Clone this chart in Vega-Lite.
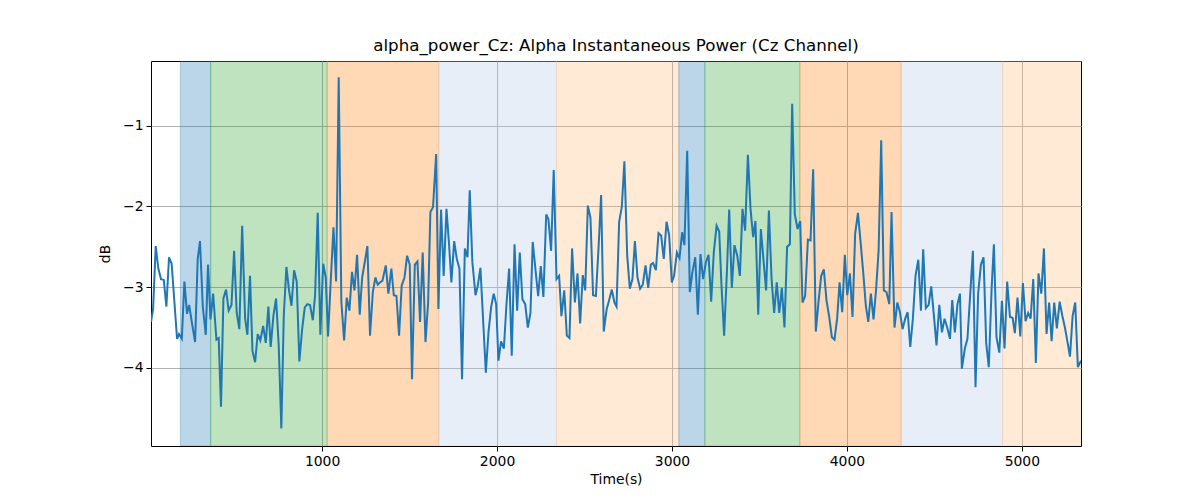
{
  "$schema": "https://vega.github.io/schema/vega-lite/v6.json",
  "width": 930,
  "height": 385,
  "autosize": {"type": "none"},
  "padding": {"left": 151, "top": 61, "right": 119, "bottom": 54},
  "background": "white",
  "title": {
    "text": "alpha_power_Cz: Alpha Instantaneous Power (Cz Channel)",
    "font": "DejaVu Sans",
    "fontSize": 16.7,
    "fontWeight": "normal",
    "color": "black",
    "anchor": "middle",
    "offset": 6
  },
  "config": {
    "view": {"stroke": "black", "strokeWidth": 1},
    "axis": {
      "domain": false,
      "grid": true,
      "gridColor": "#b0b0b0",
      "gridWidth": 1,
      "tickColor": "black",
      "tickSize": 5,
      "labelFont": "DejaVu Sans",
      "labelFontSize": 13.9,
      "labelColor": "black",
      "labelPadding": 3,
      "titleFont": "DejaVu Sans",
      "titleFontSize": 13.9,
      "titleFontWeight": "normal",
      "titleColor": "black"
    }
  },
  "datasets": {
    "bands": [
      {"start": 190, "end": 363, "phase": "A"},
      {"start": 363, "end": 1029, "phase": "B"},
      {"start": 1029, "end": 1667, "phase": "C"},
      {"start": 1667, "end": 2340, "phase": "D"},
      {"start": 2340, "end": 3039, "phase": "E"},
      {"start": 3039, "end": 3188, "phase": "A"},
      {"start": 3188, "end": 3731, "phase": "B"},
      {"start": 3731, "end": 4310, "phase": "C"},
      {"start": 4310, "end": 4890, "phase": "D"},
      {"start": 4890, "end": 5400, "phase": "E"}
    ],
    "power": [
      {"t": 22, "v": -3.43}, {"t": 34, "v": -3.27}, {"t": 49, "v": -2.49}, {"t": 64, "v": -2.77}, {"t": 79, "v": -2.90},
      {"t": 95, "v": -2.91}, {"t": 110, "v": -3.24}, {"t": 125, "v": -2.63}, {"t": 140, "v": -2.71}, {"t": 156, "v": -3.19},
      {"t": 171, "v": -3.64}, {"t": 182, "v": -3.58}, {"t": 198, "v": -3.64}, {"t": 213, "v": -2.93}, {"t": 228, "v": -3.33},
      {"t": 240, "v": -3.22}, {"t": 255, "v": -3.43}, {"t": 274, "v": -3.68}, {"t": 289, "v": -2.65}, {"t": 302, "v": -2.43},
      {"t": 318, "v": -3.24}, {"t": 335, "v": -3.59}, {"t": 348, "v": -2.72}, {"t": 362, "v": -3.40}, {"t": 377, "v": -3.08},
      {"t": 396, "v": -3.65}, {"t": 409, "v": -3.63}, {"t": 422, "v": -4.48}, {"t": 436, "v": -3.14}, {"t": 451, "v": -3.03},
      {"t": 466, "v": -3.29}, {"t": 482, "v": -3.22}, {"t": 497, "v": -2.55}, {"t": 512, "v": -3.32}, {"t": 527, "v": -3.52},
      {"t": 543, "v": -2.24}, {"t": 560, "v": -3.39}, {"t": 573, "v": -3.59}, {"t": 588, "v": -2.86}, {"t": 602, "v": -3.79},
      {"t": 617, "v": -3.93}, {"t": 632, "v": -3.58}, {"t": 647, "v": -3.66}, {"t": 663, "v": -3.48}, {"t": 678, "v": -3.69},
      {"t": 693, "v": -3.24}, {"t": 706, "v": -3.74}, {"t": 722, "v": -3.35}, {"t": 737, "v": -3.14}, {"t": 752, "v": -3.72},
      {"t": 767, "v": -4.75}, {"t": 781, "v": -3.35}, {"t": 796, "v": -2.75}, {"t": 811, "v": -3.04}, {"t": 825, "v": -3.23},
      {"t": 840, "v": -2.79}, {"t": 855, "v": -2.93}, {"t": 870, "v": -3.92}, {"t": 886, "v": -3.52}, {"t": 901, "v": -3.25},
      {"t": 916, "v": -3.21}, {"t": 931, "v": -3.22}, {"t": 947, "v": -3.41}, {"t": 960, "v": -3.10}, {"t": 975, "v": -2.08},
      {"t": 990, "v": -3.59}, {"t": 1006, "v": -2.71}, {"t": 1021, "v": -2.88}, {"t": 1034, "v": -3.61}, {"t": 1049, "v": -2.94},
      {"t": 1065, "v": -2.26}, {"t": 1080, "v": -2.93}, {"t": 1095, "v": -0.40}, {"t": 1110, "v": -3.18}, {"t": 1126, "v": -3.66},
      {"t": 1141, "v": -3.13}, {"t": 1156, "v": -3.29}, {"t": 1171, "v": -2.81}, {"t": 1185, "v": -3.04}, {"t": 1200, "v": -2.60},
      {"t": 1215, "v": -3.34}, {"t": 1229, "v": -2.88}, {"t": 1244, "v": -2.69}, {"t": 1259, "v": -2.49}, {"t": 1274, "v": -3.60},
      {"t": 1290, "v": -3.06}, {"t": 1305, "v": -2.88}, {"t": 1318, "v": -2.97}, {"t": 1332, "v": -2.94}, {"t": 1345, "v": -2.92},
      {"t": 1364, "v": -2.73}, {"t": 1379, "v": -3.08}, {"t": 1396, "v": -2.77}, {"t": 1410, "v": -3.10}, {"t": 1425, "v": -3.11},
      {"t": 1440, "v": -3.60}, {"t": 1455, "v": -2.98}, {"t": 1471, "v": -2.88}, {"t": 1486, "v": -2.61}, {"t": 1501, "v": -2.72},
      {"t": 1514, "v": -4.14}, {"t": 1530, "v": -2.72}, {"t": 1545, "v": -2.68}, {"t": 1560, "v": -3.43}, {"t": 1575, "v": -2.57},
      {"t": 1591, "v": -3.68}, {"t": 1606, "v": -3.19}, {"t": 1619, "v": -2.07}, {"t": 1634, "v": -2.01}, {"t": 1652, "v": -1.35},
      {"t": 1665, "v": -3.27}, {"t": 1680, "v": -2.04}, {"t": 1695, "v": -2.86}, {"t": 1711, "v": -2.03}, {"t": 1726, "v": -2.48},
      {"t": 1739, "v": -2.94}, {"t": 1755, "v": -2.43}, {"t": 1770, "v": -2.65}, {"t": 1785, "v": -2.77}, {"t": 1800, "v": -4.14},
      {"t": 1816, "v": -2.52}, {"t": 1831, "v": -2.63}, {"t": 1844, "v": -1.80}, {"t": 1859, "v": -2.69}, {"t": 1877, "v": -3.10},
      {"t": 1890, "v": -2.98}, {"t": 1905, "v": -2.76}, {"t": 1920, "v": -3.39}, {"t": 1936, "v": -4.06}, {"t": 1951, "v": -3.56},
      {"t": 1966, "v": -3.25}, {"t": 1981, "v": -3.08}, {"t": 1995, "v": -3.21}, {"t": 2008, "v": -3.91}, {"t": 2023, "v": -3.67},
      {"t": 2039, "v": -3.76}, {"t": 2054, "v": -3.21}, {"t": 2069, "v": -2.77}, {"t": 2084, "v": -3.85}, {"t": 2100, "v": -2.47},
      {"t": 2115, "v": -3.29}, {"t": 2130, "v": -2.57}, {"t": 2145, "v": -3.15}, {"t": 2161, "v": -3.21}, {"t": 2176, "v": -3.50},
      {"t": 2191, "v": -3.32}, {"t": 2204, "v": -2.44}, {"t": 2220, "v": -2.79}, {"t": 2235, "v": -3.11}, {"t": 2250, "v": -2.74},
      {"t": 2265, "v": -3.12}, {"t": 2281, "v": -2.10}, {"t": 2294, "v": -2.16}, {"t": 2309, "v": -2.55}, {"t": 2324, "v": -1.55},
      {"t": 2340, "v": -2.90}, {"t": 2355, "v": -2.86}, {"t": 2368, "v": -3.36}, {"t": 2384, "v": -3.04}, {"t": 2399, "v": -3.60},
      {"t": 2414, "v": -3.63}, {"t": 2429, "v": -2.52}, {"t": 2445, "v": -3.19}, {"t": 2460, "v": -2.83}, {"t": 2475, "v": -3.45},
      {"t": 2490, "v": -2.85}, {"t": 2504, "v": -3.04}, {"t": 2519, "v": -1.99}, {"t": 2534, "v": -2.14}, {"t": 2549, "v": -3.10},
      {"t": 2565, "v": -3.11}, {"t": 2580, "v": -2.52}, {"t": 2595, "v": -1.86}, {"t": 2610, "v": -3.55}, {"t": 2626, "v": -3.28},
      {"t": 2641, "v": -3.16}, {"t": 2656, "v": -3.03}, {"t": 2671, "v": -3.19}, {"t": 2683, "v": -3.24}, {"t": 2698, "v": -2.19},
      {"t": 2713, "v": -2.01}, {"t": 2728, "v": -1.44}, {"t": 2744, "v": -2.61}, {"t": 2759, "v": -3.02}, {"t": 2774, "v": -2.90},
      {"t": 2788, "v": -2.43}, {"t": 2803, "v": -2.88}, {"t": 2818, "v": -3.02}, {"t": 2833, "v": -2.97}, {"t": 2849, "v": -2.73},
      {"t": 2864, "v": -3.01}, {"t": 2879, "v": -2.72}, {"t": 2892, "v": -2.70}, {"t": 2908, "v": -2.79}, {"t": 2923, "v": -2.33},
      {"t": 2938, "v": -2.36}, {"t": 2953, "v": -2.65}, {"t": 2969, "v": -2.19}, {"t": 2984, "v": -2.36}, {"t": 2999, "v": -2.94},
      {"t": 3012, "v": -2.86}, {"t": 3028, "v": -2.57}, {"t": 3043, "v": -2.64}, {"t": 3058, "v": -2.32}, {"t": 3071, "v": -2.48},
      {"t": 3087, "v": -1.31}, {"t": 3102, "v": -3.06}, {"t": 3117, "v": -2.81}, {"t": 3133, "v": -2.63}, {"t": 3148, "v": -3.34},
      {"t": 3163, "v": -2.59}, {"t": 3178, "v": -2.90}, {"t": 3194, "v": -2.69}, {"t": 3209, "v": -2.60}, {"t": 3224, "v": -3.18},
      {"t": 3239, "v": -2.57}, {"t": 3255, "v": -2.24}, {"t": 3270, "v": -2.31}, {"t": 3283, "v": -2.98}, {"t": 3298, "v": -3.60},
      {"t": 3314, "v": -2.81}, {"t": 3327, "v": -2.04}, {"t": 3342, "v": -3.01}, {"t": 3357, "v": -2.48}, {"t": 3373, "v": -2.61},
      {"t": 3388, "v": -2.86}, {"t": 3403, "v": -2.03}, {"t": 3418, "v": -2.30}, {"t": 3434, "v": -1.36}, {"t": 3449, "v": -2.03},
      {"t": 3464, "v": -2.38}, {"t": 3477, "v": -2.18}, {"t": 3493, "v": -3.34}, {"t": 3508, "v": -2.28}, {"t": 3523, "v": -2.66},
      {"t": 3538, "v": -3.04}, {"t": 3554, "v": -2.05}, {"t": 3569, "v": -2.89}, {"t": 3584, "v": -3.32}, {"t": 3599, "v": -2.94},
      {"t": 3613, "v": -3.32}, {"t": 3628, "v": -3.01}, {"t": 3643, "v": -3.50}, {"t": 3658, "v": -2.50}, {"t": 3674, "v": -2.47},
      {"t": 3687, "v": -0.73}, {"t": 3702, "v": -2.10}, {"t": 3718, "v": -2.28}, {"t": 3733, "v": -2.18}, {"t": 3746, "v": -3.19},
      {"t": 3761, "v": -3.11}, {"t": 3777, "v": -2.41}, {"t": 3792, "v": -2.42}, {"t": 3807, "v": -1.54}, {"t": 3822, "v": -3.55},
      {"t": 3838, "v": -3.17}, {"t": 3853, "v": -2.86}, {"t": 3868, "v": -2.78}, {"t": 3883, "v": -3.16}, {"t": 3899, "v": -3.37},
      {"t": 3914, "v": -3.62}, {"t": 3929, "v": -3.65}, {"t": 3944, "v": -3.39}, {"t": 3958, "v": -2.94}, {"t": 3973, "v": -3.31},
      {"t": 3988, "v": -2.60}, {"t": 4002, "v": -3.10}, {"t": 4017, "v": -2.83}, {"t": 4032, "v": -3.37}, {"t": 4047, "v": -2.34},
      {"t": 4063, "v": -2.08}, {"t": 4078, "v": -2.44}, {"t": 4093, "v": -2.81}, {"t": 4108, "v": -3.23}, {"t": 4122, "v": -3.43},
      {"t": 4137, "v": -3.08}, {"t": 4152, "v": -3.40}, {"t": 4167, "v": -3.02}, {"t": 4181, "v": -2.55}, {"t": 4196, "v": -1.18},
      {"t": 4211, "v": -3.04}, {"t": 4226, "v": -3.06}, {"t": 4242, "v": -3.21}, {"t": 4255, "v": -2.07}, {"t": 4272, "v": -3.50},
      {"t": 4288, "v": -3.19}, {"t": 4303, "v": -3.31}, {"t": 4318, "v": -3.52}, {"t": 4333, "v": -3.39}, {"t": 4347, "v": -3.31},
      {"t": 4362, "v": -3.74}, {"t": 4377, "v": -3.39}, {"t": 4392, "v": -2.86}, {"t": 4408, "v": -2.66}, {"t": 4423, "v": -3.29},
      {"t": 4436, "v": -2.53}, {"t": 4451, "v": -3.26}, {"t": 4467, "v": -3.22}, {"t": 4482, "v": -2.99}, {"t": 4497, "v": -3.35},
      {"t": 4512, "v": -3.72}, {"t": 4528, "v": -3.22}, {"t": 4543, "v": -3.56}, {"t": 4558, "v": -3.39}, {"t": 4573, "v": -3.50},
      {"t": 4589, "v": -3.64}, {"t": 4602, "v": -3.16}, {"t": 4617, "v": -3.56}, {"t": 4632, "v": -3.21}, {"t": 4646, "v": -3.08},
      {"t": 4657, "v": -4.01}, {"t": 4674, "v": -3.76}, {"t": 4689, "v": -3.64}, {"t": 4705, "v": -3.08}, {"t": 4720, "v": -2.55},
      {"t": 4735, "v": -4.24}, {"t": 4750, "v": -3.08}, {"t": 4766, "v": -2.72}, {"t": 4781, "v": -2.63}, {"t": 4796, "v": -3.69},
      {"t": 4811, "v": -3.99}, {"t": 4827, "v": -3.02}, {"t": 4840, "v": -2.47}, {"t": 4855, "v": -3.62}, {"t": 4871, "v": -3.81},
      {"t": 4886, "v": -3.17}, {"t": 4901, "v": -3.76}, {"t": 4916, "v": -2.93}, {"t": 4932, "v": -3.37}, {"t": 4947, "v": -3.38},
      {"t": 4960, "v": -3.57}, {"t": 4975, "v": -3.13}, {"t": 4991, "v": -3.61}, {"t": 5006, "v": -2.95}, {"t": 5021, "v": -3.42},
      {"t": 5036, "v": -3.32}, {"t": 5050, "v": -3.39}, {"t": 5065, "v": -2.90}, {"t": 5080, "v": -3.94}, {"t": 5095, "v": -2.83},
      {"t": 5111, "v": -3.08}, {"t": 5126, "v": -2.52}, {"t": 5141, "v": -3.58}, {"t": 5156, "v": -3.19}, {"t": 5170, "v": -3.67},
      {"t": 5185, "v": -3.19}, {"t": 5200, "v": -3.51}, {"t": 5216, "v": -3.18}, {"t": 5231, "v": -3.35}, {"t": 5246, "v": -3.50},
      {"t": 5261, "v": -3.68}, {"t": 5275, "v": -3.86}, {"t": 5290, "v": -3.36}, {"t": 5305, "v": -3.19}, {"t": 5320, "v": -3.99},
      {"t": 5338, "v": -3.91}
    ]
  },
  "layer": [
    {
      "data": {"name": "bands"},
      "mark": {"type": "rect", "fillOpacity": 0.3, "strokeOpacity": 0.3, "strokeWidth": 1, "clip": true},
      "encoding": {
        "x": {"field": "start", "type": "quantitative", "scale": {"domain": [22, 5338], "nice": false, "zero": false}},
        "x2": {"field": "end"},
        "fill": {
          "field": "phase", "type": "nominal", "legend": null,
          "scale": {"domain": ["A", "B", "C", "D", "E"], "range": ["#1f77b4", "#2ca02c", "#ff7f0e", "#aec7e8", "#ffbb78"]}
        },
        "stroke": {
          "field": "phase", "type": "nominal", "legend": null,
          "scale": {"domain": ["A", "B", "C", "D", "E"], "range": ["#1f77b4", "#2ca02c", "#ff7f0e", "#aec7e8", "#ffbb78"]}
        }
      }
    },
    {
      "data": {"name": "power"},
      "mark": {"type": "line", "color": "#1f77b4", "strokeWidth": 2, "clip": true},
      "encoding": {
        "x": {
          "field": "t", "type": "quantitative",
          "scale": {"domain": [22, 5338], "nice": false, "zero": false},
          "axis": {"title": "Time(s)", "values": [1000, 2000, 3000, 4000, 5000], "format": "d", "titlePadding": 5}
        },
        "y": {
          "field": "v", "type": "quantitative",
          "scale": {"domain": [-4.967, -0.199], "nice": false, "zero": false},
          "axis": {"title": "dB", "values": [-1, -2, -3, -4], "format": "d", "titlePadding": 10}
        }
      }
    }
  ]
}
